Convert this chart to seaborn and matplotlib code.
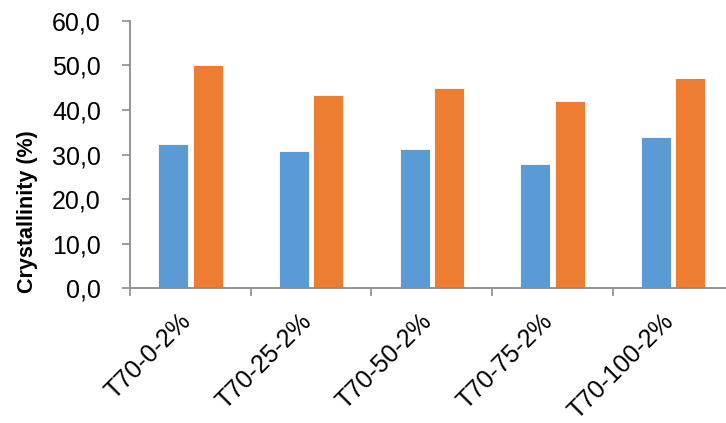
import matplotlib
matplotlib.use("Agg")
import matplotlib.pyplot as plt
import matplotlib.transforms as mtransforms
from matplotlib.ticker import FuncFormatter, FixedLocator
import numpy as np
import pandas as pd
import seaborn as sns

# Crystallinity of the T70 blends, two measurements per sample
categories = ["T70-0-2%", "T70-25-2%", "T70-50-2%", "T70-75-2%", "T70-100-2%"]
series_names = ["Series1", "Series2"]
series1 = [32.4, 30.8, 31.3, 27.8, 33.9]
series2 = [50.0, 43.3, 44.8, 41.9, 47.2]
y_ticks = [0, 10, 20, 30, 40, 50, 60]

df = pd.DataFrame({
    "sample": categories * 2,
    "series": [series_names[0]] * len(categories) + [series_names[1]] * len(categories),
    "value": series1 + series2,
})

sns.set_theme(style="white")
plt.rcParams["font.family"] = ["Liberation Sans", "DejaVu Sans"]

fig = plt.figure(figsize=(7.26, 4.23), dpi=100)
ax = fig.add_axes([130 / 726, (423 - 288.3) / 423, 1 - 130 / 726, (288.3 - 20.7) / 423])

palette = {series_names[0]: "#5B9BD5", series_names[1]: "#ED7D31"}
sns.barplot(data=df, x="sample", y="value", hue="series", order=categories,
            hue_order=series_names, palette=palette, width=0.57, gap=0.13,
            saturation=1, edgecolor="white", linewidth=0.6, legend=False, ax=ax)

ax.set_ylim(0, 60)
ax.set_xlim(-0.5, -0.5 + (726 - 130) / 120.7)
ax.yaxis.set_major_locator(FixedLocator(y_ticks))
ax.yaxis.set_major_formatter(FuncFormatter(lambda v, _: f"{v:.1f}".replace(".", ",")))

axis_color = "#8C8C8C"
for side in ["top", "right"]:
    ax.spines[side].set_visible(False)
for side in ["left", "bottom"]:
    ax.spines[side].set_color(axis_color)
    ax.spines[side].set_linewidth(1.3)

ax.tick_params(axis="y", which="major", direction="out", length=6, width=1.2,
               color=axis_color, labelsize=18, labelcolor="black", pad=15, left=True)
# Category boundaries carry the tick marks; labels sit at category centres
ax.xaxis.set_minor_locator(FixedLocator(np.arange(-0.5, len(categories), 1.0)))
ax.tick_params(axis="x", which="minor", direction="out", length=6, width=1.2,
               color=axis_color, bottom=True)
ax.tick_params(axis="x", which="major", length=0, labelsize=18, labelcolor="black", pad=15)

offset = mtransforms.ScaledTranslation(5 / 100, 0, fig.dpi_scale_trans)
for lbl in ax.get_xticklabels():
    lbl.set_rotation(45)
    lbl.set_ha("right")
    lbl.set_va("top")
    lbl.set_transform(lbl.get_transform() + offset)

ax.set_xlabel("")
ax.set_ylabel("Crystallinity (%)", fontsize=15.5, fontweight="bold", color="black")
ax.yaxis.set_label_coords((38 - 130) / 596, (288.3 - 212) / 267.6)
ax.grid(False)

fig.savefig("out.png", dpi=100)
